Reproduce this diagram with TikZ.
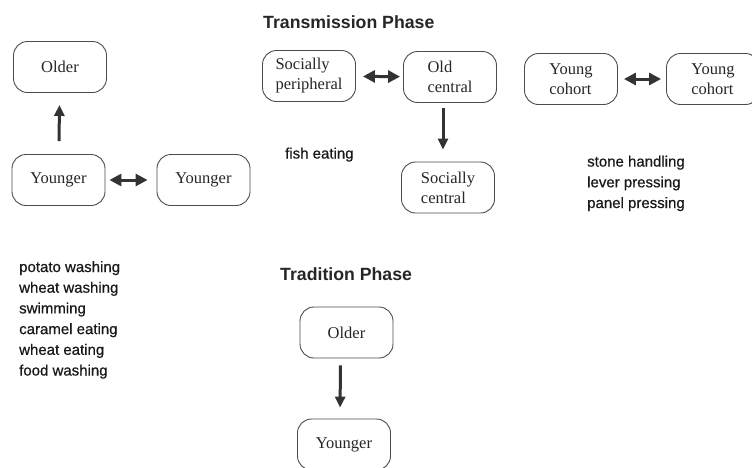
\documentclass[tikz,border=0pt]{standalone}
\usepackage{fontspec}
\setmainfont{Liberation Serif}
\setsansfont{Liberation Sans}
\newfontfamily\listfont[FakeBold=0.6]{Liberation Sans}
\usetikzlibrary{arrows.meta}

\tikzset{
	grp/.style={draw=black!70, line width=0.9pt, rounded corners=14pt, minimum width=93pt, minimum height=51pt, align=left, text=black!85, font=\fontsize{16.5}{20}\selectfont},
	behav/.style={anchor=base west, inner sep=0pt, align=left, text=black!90, font=\listfont\fontsize{15}{20.7}\selectfont},
	phasetitle/.style={anchor=west, inner sep=0pt, text=black!85, font=\sffamily\bfseries\fontsize{17.7}{20}\selectfont},
	oneway/.style={line width=3pt, draw=black!80, -{Triangle[length=11pt,width=10pt]}},
	twoway/.style={line width=3pt, draw=black!80, {Triangle[length=12pt,width=12pt]}-{Triangle[length=12pt,width=12pt]}}
}

\begin{document}
\begin{tikzpicture}[x=1pt, y=-1pt]
	%%%%% START %%%%%
	\clip (0, 0) rectangle (752, 467);
	\fill[white] (0, 0) rectangle (752, 467);
	
	% titles
	\node[phasetitle] (trtitle) at (263, 22) {Transmission Phase};
	\node[phasetitle] (tdtitle) at (280, 274) {Tradition Phase};
	
	% left group
	\node[grp] (lold) at (60, 67) {Older};
	\node[grp] (lyoung) at (58.5, 180) {Younger};
	\node[grp] (ryoung) at (203.5, 180) {Younger};
	\draw[oneway, shorten <=13pt, shorten >=12pt] (lyoung) -- (lold);
	\draw[twoway, shorten <=4pt, shorten >=9pt] (lyoung) -- (ryoung);
	
	% social groups
	\node[grp] (speri) at (309, 76) {Socially\\peripheral};
	\node[grp] (ocent) at (450, 77) {Old\\central};
	\node[grp] (scent) at (448, 187.5) {Socially\\central};
	\draw[twoway, shorten <=7pt, shorten >=3pt] (speri) -- (ocent);
	\draw[oneway, shorten <=5pt, shorten >=12pt] ([xshift=-7pt]ocent.south) -- ([xshift=-5pt]scent.north);
	
	% cohorts
	\node[grp] (ycoh1) at (571, 79) {Young\\cohort};
	\node[grp] (ycoh2) at (713, 79) {Young\\cohort};
	\draw[twoway, shorten <=6pt, shorten >=5pt] (ycoh1) -- (ycoh2);
	
	% tradition
	\node[grp] (told) at (346.5, 332.5) {Older};
	\node[grp] (tyoung) at (344, 444.5) {Younger};
	\draw[oneway, shorten <=7pt, shorten >=11pt] ([xshift=-6pt]told.south) -- ([xshift=-4pt]tyoung.north);
	
	% behaviours (base = last line)
	\node[behav] (fish) at (285, 158.5) {fish eating};
	\node[behav] (tools) at (587, 208) {stone handling\\lever pressing\\panel pressing};
	\node[behav] (food) at (19, 375.5) {potato washing\\wheat washing\\swimming\\caramel eating\\wheat eating\\food washing};
	%%%%% END %%%%%
\end{tikzpicture}
\end{document}
